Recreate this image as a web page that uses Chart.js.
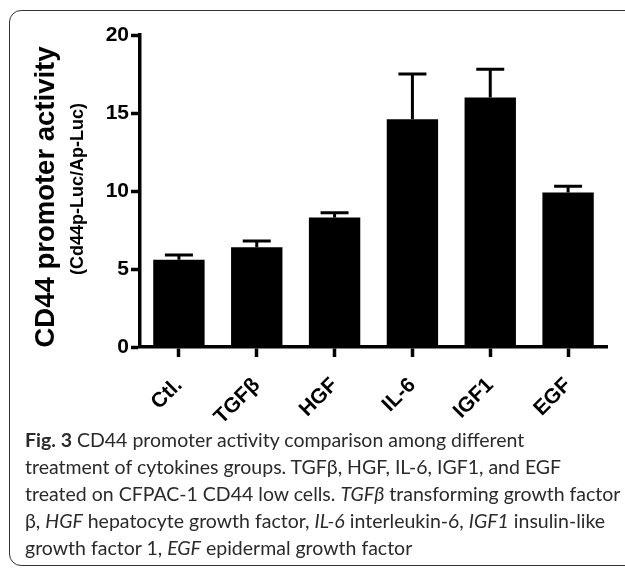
<!DOCTYPE html>
<html>
<head>
<meta charset="utf-8">
<script src="https://cdn.jsdelivr.net/npm/chart.js@4"></script>
<style>
  body { margin: 0; background: #fff; width: 625px; height: 571px; overflow: hidden; position: relative; }
  #frame { position: absolute; left: 9px; top: 10px; width: 640px; height: 556px; border: 1.5px solid #333; border-radius: 12px; box-sizing: border-box; }
  #wrap { position: absolute; left: 0; top: 0; width: 625px; height: 430px; }
  #caption { position: absolute; left: 25px; top: 426px; width: 600px; font-family: Lato, "Liberation Sans", sans-serif; font-size: 19.5px; line-height: 27px; color: #2a2a2a; white-space: nowrap; }
  #caption b { font-weight: bold; }
</style>
</head>
<body>
<div id="frame"></div>
<div id="wrap"><canvas id="chart" width="625" height="430"></canvas></div>
<div id="caption">
  <b>Fig. 3</b> CD44 promoter activity comparison among different<br>
  treatment of cytokines groups. TGFβ, HGF, IL-6, IGF1, and EGF<br>
  treated on CFPAC-1 CD44 low cells. <i>TGFβ</i> transforming growth factor<br>
  β, <i>HGF</i> hepatocyte growth factor, <i>IL-6</i> interleukin-6, <i>IGF1</i> insulin-like<br>
  growth factor 1, <i>EGF</i> epidermal growth factor
</div>
<script>
// values
const groups = ["Ctl.", "TGFβ", "HGF", "IL-6", "IGF1", "EGF"];
const means = [5.6, 6.4, 8.3, 14.6, 16.0, 9.9];
const errTops = [5.9, 6.8, 8.6, 17.5, 17.8, 10.3];
const yTicks = [0, 5, 10, 15, 20];

const titleMain = "CD44 promoter activity";
const titleSub = "(Cd44p-Luc/Ap-Luc)";

// error bars (upper side only) + rotated axis titles
const extras = {
    id: "extras",
    afterDatasetsDraw(chart) {
        const ctx = chart.ctx;
        const x = chart.scales.x, y = chart.scales.y;
        ctx.save();
        ctx.strokeStyle = "#000";
        ctx.lineWidth = 3;
        means.forEach((m, i) => {
            const cx = x.getPixelForValue(i);
            const y0 = y.getPixelForValue(m);
            const y1 = y.getPixelForValue(errTops[i]);
            ctx.beginPath();
            ctx.moveTo(cx, y0);
            ctx.lineTo(cx, y1);
            ctx.moveTo(cx - 14, y1);
            ctx.lineTo(cx + 14, y1);
            ctx.stroke();
        });
        ctx.restore();
    },
    afterDraw(chart) {
        const ctx = chart.ctx;
        ctx.save();
        ctx.fillStyle = "#000";
        ctx.textAlign = "center";
        ctx.textBaseline = "middle";
        ctx.translate(46, 197);
        ctx.rotate(-Math.PI / 2);
        ctx.font = "bold 27.5px 'Liberation Sans', Arial, sans-serif";
        ctx.fillText(titleMain, 0, 0);
        ctx.font = "bold 18px 'Liberation Sans', Arial, sans-serif";
        ctx.fillText(titleSub, 8, 32);
        ctx.restore();
    }
};

new Chart(document.getElementById("chart"), {
    type: "bar",
    data: {
        labels: groups,
        datasets: [{
            data: means,
            backgroundColor: "#000",
            borderWidth: 0,
            barPercentage: 0.66,
            categoryPercentage: 1
        }]
    },
    options: {
        responsive: false,
        animation: false,
        layout: { padding: { top: 35, right: 18, left: 0, bottom: 0 } },
        plugins: { legend: { display: false }, tooltip: { enabled: false } },
        scales: {
            x: {
                grid: { display: true, drawOnChartArea: false, offset: false, tickLength: 10, tickWidth: 3.5, color: "#000" },
                border: { display: true, color: "#000", width: 3.5 },
                ticks: {
                    color: "#000",
                    minRotation: 45, maxRotation: 45,
                    font: { family: "'Liberation Sans', Arial, sans-serif", size: 21, weight: "bold" },
                    padding: 16
                },
                afterFit(scale) { scale.height = 83; }
            },
            y: {
                min: 0, max: 20,
                afterBuildTicks(scale) { scale.ticks = yTicks.map(v => ({ value: v })); },
                grid: { display: true, drawOnChartArea: false, tickLength: 9, tickWidth: 3.5, color: "#000" },
                border: { display: true, color: "#000", width: 3.5 },
                ticks: {
                    color: "#000",
                    font: { family: "'Liberation Sans', Arial, sans-serif", size: 21, weight: "bold" },
                    padding: 2
                },
                afterFit(scale) { scale.width = 140; }
            }
        }
    },
    plugins: [extras]
});
</script>
</body>
</html>
